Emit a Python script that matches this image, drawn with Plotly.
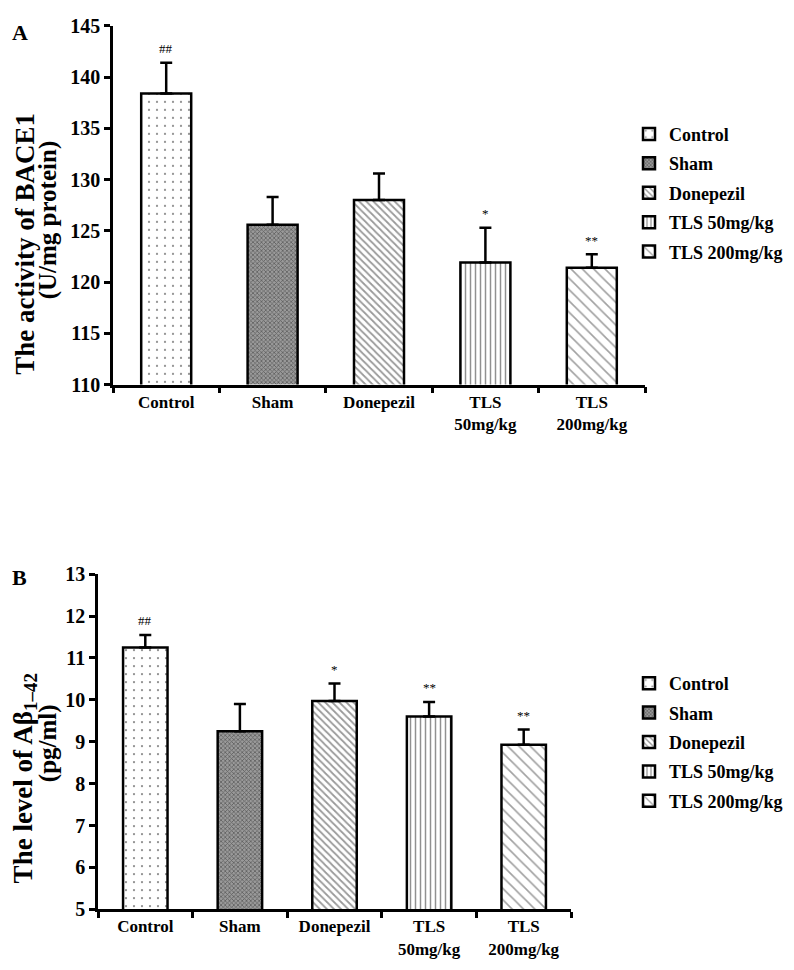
import plotly.graph_objects as go

groups = ["Control", "Sham", "Donepezil", "TLS 50mg/kg", "TLS 200mg/kg"]
tick_labels = ["Control", "Sham", "Donepezil", "TLS<br>50mg/kg", "TLS<br>200mg/kg"]

# panel A: BACE1 activity (U/mg protein)
bace1_mean = [138.4, 125.6, 128.0, 121.9, 121.4]
bace1_err = [3.0, 2.7, 2.6, 3.4, 1.3]
bace1_sig = ["##", "", "", "*", "**"]
bace1_ticks = [110, 115, 120, 125, 130, 135, 140, 145]

# panel B: Abeta1-42 level (pg/ml)
abeta_mean = [11.25, 9.25, 9.97, 9.6, 8.93]
abeta_err = [0.3, 0.65, 0.42, 0.35, 0.36]
abeta_sig = ["##", "", "*", "**", "**"]
abeta_ticks = [5, 6, 7, 8, 9, 10, 11, 12, 13]

FONT = "Liberation Serif"
W, H = 794, 970

patterns = [
    dict(shape=".", fgcolor="black", bgcolor="white", size=8, solidity=0.06),
    dict(shape="x", fgcolor="#222222", bgcolor="#9a9a9a", size=3, solidity=0.45),
    dict(shape="\\", fgcolor="#333333", bgcolor="white", size=5, solidity=0.35),
    dict(shape="|", fgcolor="#222222", bgcolor="white", size=5, solidity=0.3),
    dict(shape="\\", fgcolor="#444444", bgcolor="white", size=8, solidity=0.2),
]


def px_x(p):
    return p / W


def px_y(p):
    return 1 - p / H


fig = go.Figure()

panels = [
    dict(xa="x", ya="y", legend="legend", mean=bace1_mean, err=bace1_err, sig=bace1_sig),
    dict(xa="x2", ya="y2", legend="legend2", mean=abeta_mean, err=abeta_err, sig=abeta_sig),
]

for p in panels:
    for i, g in enumerate(groups):
        fig.add_trace(go.Bar(
            x=[tick_labels[i]], y=[p["mean"][i]], name="<b>%s</b>" % g,
            xaxis=p["xa"], yaxis=p["ya"], legend=p["legend"],
            legendgroup="%s-%d" % (p["legend"], i),
            marker=dict(color="white", pattern=patterns[i],
                        line=dict(color="black", width=2.5)),
            error_y=dict(type="data", symmetric=False, array=[p["err"][i]],
                         arrayminus=[0], color="black", thickness=2.5, width=6),
            width=0.47,
        ))
    for i, s in enumerate(p["sig"]):
        if s:
            fig.add_annotation(x=tick_labels[i], y=p["mean"][i] + p["err"][i],
                               xref=p["xa"], yref=p["ya"], text=s, showarrow=False,
                               yshift=14, font=dict(family=FONT, size=13, color="black"))

axis_common = dict(showline=True, linecolor="black", linewidth=2.5, ticks="outside",
                   tickwidth=2.5, ticklen=6, tickcolor="black", showgrid=False,
                   zeroline=False)
xfont = dict(family=FONT, size=17, color="black")
yfont = dict(family=FONT, size=20, color="black")
legend_common = dict(xanchor="left", yanchor="top", itemwidth=30, tracegroupgap=3,
                     traceorder="grouped", bgcolor="rgba(0,0,0,0)",
                     font=dict(family=FONT, size=18, color="black"))

fig.update_layout(
    width=W, height=H, margin=dict(l=0, r=0, t=0, b=0),
    plot_bgcolor="white", paper_bgcolor="white", showlegend=True, barmode="overlay",
    xaxis=dict(domain=[px_x(105), px_x(637)], anchor="y", tickson="boundaries",
               tickvals=tick_labels, ticktext=["<b>%s</b>" % t for t in tick_labels],
               tickfont=xfont, **axis_common),
    yaxis=dict(domain=[px_y(374), px_y(7)], anchor="x", range=[110, 145],
               tickvals=bace1_ticks, ticktext=["<b>%d</b>" % t for t in bace1_ticks],
               tickfont=yfont, **axis_common),
    xaxis2=dict(domain=[px_x(90), px_x(563)], anchor="y2", tickson="boundaries",
                tickvals=tick_labels, ticktext=["<b>%s</b>" % t for t in tick_labels],
                tickfont=xfont, **axis_common),
    yaxis2=dict(domain=[px_y(911), px_y(568)], anchor="x2", range=[5, 13],
                tickvals=abeta_ticks, ticktext=["<b>%d</b>" % t for t in abeta_ticks],
                tickfont=yfont, **axis_common),
    legend=dict(x=px_x(621), y=px_y(99), **legend_common),
    legend2=dict(x=px_x(621), y=px_y(661), **legend_common),
)


def label(x, y, text, size, angle=0):
    fig.add_annotation(x=px_x(x), y=px_y(y), xref="paper", yref="paper", text=text,
                       textangle=angle, showarrow=False, xanchor="center",
                       yanchor="middle", font=dict(family=FONT, size=size, color="black"))


# panel letters
label(12, 14, "<b>A</b>", 22)
label(11, 571, "<b>B</b>", 22)
# y titles, one annotation per line to keep them tight
label(17, 230, "<b>The activity of BACE1</b>", 27, -90)
label(40, 206, "<b>(U/mg protein)</b>", 25, -90)
label(17, 777, "<b>The level of Aβ<sub>1–42</sub></b>", 27, -90)
label(40, 741, "<b>(pg/ml)</b>", 25, -90)

fig.write_html("out.html")
